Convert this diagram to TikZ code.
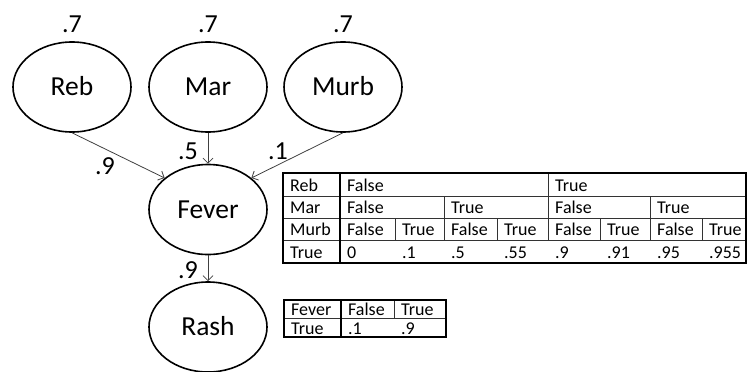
\documentclass[tikz,border=0pt]{standalone}
\usepackage{fontspec}
\setmainfont{Carlito}
\usetikzlibrary{shapes.geometric,arrows.meta}

\def\bigtext{\fontsize{27.5}{32}\selectfont}
\def\probtext{\fontsize{26}{30}\selectfont}
\def\tabtext{\fontsize{18}{21}\selectfont}

\begin{document}
\begin{tikzpicture}[x=1pt,y=-1pt,
    var/.style={draw,ellipse,line width=1.6pt,minimum width=118pt,minimum height=90pt,inner sep=0pt,
      text height=17.7pt,text depth=0pt,font=\bigtext},
    prob/.style={inner sep=0pt,text height=16.4pt,text depth=0pt,font=\probtext},
    link/.style={draw=black!75,line width=0.8pt,-{Straight Barb[length=5pt,width=10pt]}},
    cell/.style={anchor=west,inner sep=0pt,xshift=7pt,yshift=-1pt,text height=11.6pt,text depth=0pt,font=\tabtext},
    tabthick/.style={line width=1.2pt},
    tabthin/.style={line width=0.6pt,draw=black!80}]
    \useasboundingbox (0,0) rectangle (747,372);

    % Knoten
    \node[var] (reb) at (72,87) {Reb};
    \node[var] (mar) at (208,87) {Mar};
    \node[var] (murb) at (343,87) {Murb};
    \node[var] (fever) at (208,209.5) {Fever};
    \node[var] (rash) at (208,327) {Rash};

    % Apriori
    \node[prob] (preb) at (72,24.5) {.7};
    \node[prob] (pmar) at (208,24.5) {.7};
    \node[prob] (pmurb) at (343,24.5) {.7};

    % Kanten
    \draw[link] (reb.south) -- (fever.144);
    \draw[link] (mar) -- (fever);
    \draw[link] (murb.south) -- (fever.36);
    \draw[link] (fever) -- (rash);
    \node[prob] (wreb) at (105,166) {.9};
    \node[prob] (wmar) at (188,151) {.5};
    \node[prob] (wmurb) at (278,151) {.1};
    \node[prob] (wfever) at (188,270) {.9};

    % Tabelle Fever
    \draw[tabthin] (283,196) -- (746,196) (283,218) -- (746,218) (283,240) -- (746,240);
    \draw[tabthin] (548,173) -- (548,240) (444,196) -- (444,240) (650,196) -- (650,240);
    \foreach \x in {395,497,600,702} \draw[tabthin] (\x,218) -- (\x,240);
    \draw[tabthick] (283,173) rectangle (746,263);
    \draw[tabthick] (340,173) -- (340,263);
    \foreach \x/\y/\t [count=\n] in {283/184.5/Reb, 340/184.5/False, 548/184.5/True,
        283/207/Mar, 340/207/False, 444/207/True, 548/207/False, 650/207/True,
        283/229/Murb, 340/229/False, 395/229/True, 444/229/False, 497/229/True,
        548/229/False, 600/229/True, 650/229/False, 702/229/True,
        283/251.5/True, 340/251.5/0, 395/251.5/.1, 444/251.5/.5, 497/251.5/.55,
        548/251.5/.9, 600/251.5/.91, 650/251.5/.95, 702/251.5/.955}
      \node[cell] (fe\n) at (\x,\y) {\t};

    % Tabelle Rash
    \draw[tabthin] (284,318) -- (446,318) (394,300) -- (394,318);
    \draw[tabthick] (284,300) rectangle (446,337);
    \draw[tabthick] (341,300) -- (341,337);
    \foreach \x/\y/\t [count=\n] in {284/309/Fever, 341/309/False, 394/309/True,
        284/327.5/True, 341/327.5/.1, 394/327.5/.9}
      \node[cell] (ra\n) at (\x,\y) {\t};
\end{tikzpicture}
\end{document}
